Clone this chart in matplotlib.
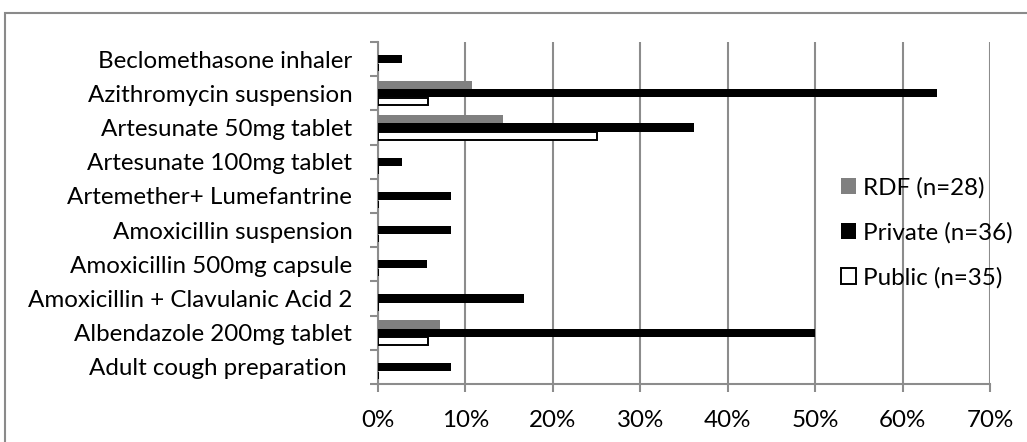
import numpy as np
import matplotlib
matplotlib.use("Agg")
import matplotlib.pyplot as plt
from matplotlib.patches import Rectangle
from matplotlib.ticker import FixedLocator, PercentFormatter

# bottom to top, as drawn
categories = ['Adult cough preparation ', 'Albendazole 200mg tablet',
              'Amoxicillin + Clavulanic Acid 2', 'Amoxicillin 500mg capsule',
              'Amoxicillin suspension', 'Artemether+ Lumefantrine',
              'Artesunate 100mg tablet', 'Artesunate 50mg tablet',
              'Azithromycin suspension', 'Beclomethasone inhaler']
rdf = [0, 7.14, 0, 0, 0, 0, 0, 14.29, 10.71, 0]
private = [8.33, 50.0, 16.67, 5.56, 8.33, 8.33, 2.78, 36.11, 63.89, 2.78]
public = [0, 5.71, 0, 0, 0, 0, 0, 25.0, 5.71, 0]
series_labels = ['RDF (n=28)', 'Private (n=36)', 'Public (n=35)']
x_ticks = [0, 10, 20, 30, 40, 50, 60, 70]

plt.rcParams['font.family'] = ['Lato', 'DejaVu Sans']
grid_col = '#8c8c8c'
fsize = 17.4

fig = plt.figure(figsize=(10.27, 4.42), dpi=100)
fig.patch.set_facecolor('white')

# outer chart frame (runs off the right and bottom edges)
fig.patches.append(Rectangle((5 / 1027, -0.1), 1.2, 1 - 13 / 442 + 0.1,
                             transform=fig.transFigure, fill=False,
                             edgecolor='#8a8a8a', linewidth=1.5))

ax = fig.add_axes([378 / 1027, 1 - 384 / 442, (990 - 378) / 1027, (384 - 42) / 442])

y = np.arange(len(categories))
h = 0.245
ax.barh(y + h, rdf, height=h, color='#808080', label=series_labels[0], zorder=3)
ax.barh(y, private, height=h, color='black', label=series_labels[1], zorder=3)
ax.barh(y - h, public, height=h * 0.9, color='white', edgecolor='black',
        linewidth=1.4, label=series_labels[2], zorder=3)

ax.set_xlim(0, 70)
ax.set_ylim(-0.5, len(categories) - 0.5)
ax.xaxis.set_major_locator(FixedLocator(x_ticks))
ax.xaxis.set_major_formatter(PercentFormatter(decimals=0))
ax.xaxis.grid(True, color=grid_col, linewidth=1.5, zorder=0)
ax.set_axisbelow(True)

ax.set_yticks(y)
ax.set_yticklabels(categories)
ax.yaxis.set_minor_locator(FixedLocator(np.arange(-0.5, len(categories), 1)))
ax.tick_params(axis='y', which='major', length=0, pad=18.5, labelsize=fsize)
ax.tick_params(axis='y', which='minor', length=6, width=1.5, color=grid_col, direction='out')
ax.tick_params(axis='x', which='major', length=6, width=1.5, color=grid_col,
               direction='out', labelsize=fsize, pad=13)

for side in ['top', 'right']:
    ax.spines[side].set_visible(False)
for side in ['left', 'bottom']:
    ax.spines[side].set_color(grid_col)
    ax.spines[side].set_linewidth(1.5)

handles, labels = ax.get_legend_handles_labels()
leg = fig.legend(handles, labels, loc='center left',
                 bbox_to_anchor=(841 / 1027, 1 - 233 / 442), frameon=False,
                 fontsize=fsize, handlelength=0.62, handleheight=0.62,
                 handletextpad=0.3, labelspacing=0.97, borderpad=0,
                 borderaxespad=0)

fig.savefig('out.png', dpi=100)
